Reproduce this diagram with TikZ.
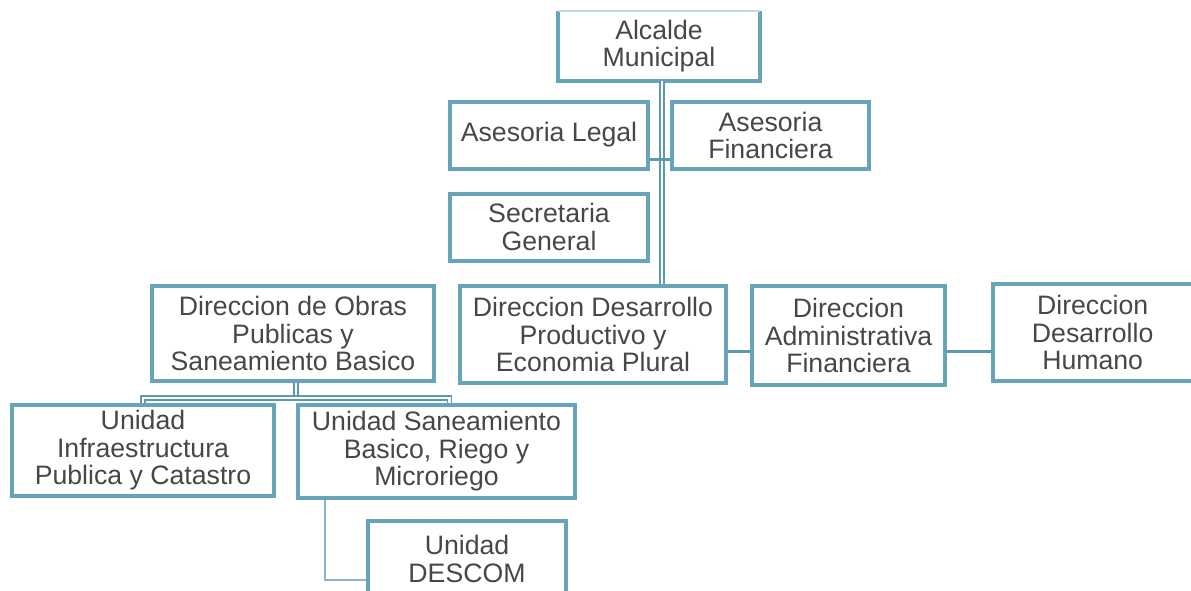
\documentclass[tikz,border=0pt]{standalone}
\usepackage{fontspec}
\setmainfont{Liberation Sans}
\usepackage{xcolor}
\usetikzlibrary{calc}
\definecolor{orgblue}{HTML}{68A4B9}
\definecolor{orgline}{HTML}{5E9AAF}
\definecolor{orgtext}{HTML}{474747}
\tikzset{
  box/.style={draw=orgblue, line width=3pt, align=center, inner sep=0pt,
    text=orgtext, font=\fontsize{20}{20.6}\selectfont},
  boxsize/.style 2 args={minimum width=#1*0.75pt, minimum height=#2*0.75pt},
  trunk/.style={draw=orgline, line width=1.1pt, double=white, double distance=1.9pt},
  link/.style={draw=orgline, line width=2.2pt},
  thinlink/.style={draw=orgblue!80, line width=1.5pt}
}
\begin{document}
\begin{tikzpicture}[x=0.75pt, y=-0.75pt]
        \useasboundingbox (0,0) rectangle (1191,590);

        %CAJAS
        \node[box, draw=none, boxsize={198}{66}] (alcalde) at (659,46) {Alcalde\\Municipal};
        \node[box, boxsize={198}{67}] (legal) at (549,135) {Asesoria Legal};
        \node[box, boxsize={197}{67}] (financ) at (770.5,135.5) {Asesoria\\Financiera};
        \node[box, boxsize={198}{67}] (secret) at (549,227) {Secretaria\\General};
        \node[box, boxsize={282}{95}] (obras) at (293,333.5) {Direccion de Obras\\Publicas y\\Saneamiento Basico};
        \node[box, boxsize={266}{97}] (productivo) at (593,334.5) {Direccion Desarrollo\\Productivo y\\Economia Plural};
        \node[box, boxsize={193}{99}] (admin) at (848.5,335.5) {Direccion\\Administrativa\\Financiera};
        \node[box, boxsize={210}{97}] (humano) at (1098,332.5) {\hspace*{-8pt}Direccion\\\hspace*{-8pt}Desarrollo\\\hspace*{-8pt}Humano};
        \node[box, boxsize={262}{91}] (infra) at (143,450.5) {Unidad\\Infraestructura\\Publica y Catastro};
        \node[box, boxsize={277}{93}] (sanea) at (436.5,451.5) {Unidad Saneamiento\\Basico, Riego y\\Microriego};
        \node[box, boxsize={198}{76}] (descom) at (467,559) {Unidad\\DESCOM};

        %BORDE ALCALDE
        \draw[orgblue, line width=3pt] (alcalde.north west) -- (alcalde.south west) -- (alcalde.south east) -- (alcalde.north east);
        \draw[orgblue!40, line width=0.8pt] (alcalde.north west) -- (alcalde.north east);

        %LINEAS
        \draw[trunk] ($(alcalde.south)+(3,0)$) coordinate (tr) -- (tr |- productivo.north);
        \draw[link] ($(legal.south east)+(0,-11)$) coordinate (lf) -- (lf -| financ.west);
        \draw[link] ($(productivo.east)+(0,17)$) coordinate (pa) -- (pa -| admin.west);
        \draw[link] ($(admin.east)+(0,16)$) coordinate (ah) -- (ah -| humano.west);
        \draw[trunk] ($(obras.south)+(3,0)$) coordinate (ob) -- ++(0,15) coordinate (bj);
        \draw[trunk] (infra.north) -- (infra.north |- bj) -- ($(bj -| sanea.north)+(13,0)$) coordinate (bs) -- (bs |- sanea.north);
        \draw[thinlink] ($(sanea.south west)+(29,0)$) coordinate (sd) |- ($(descom.west)+(0,21)$);
    \end{tikzpicture}
\end{document}
